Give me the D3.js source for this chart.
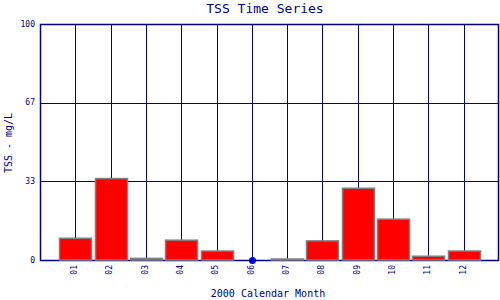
<!DOCTYPE html>
<html>
<head>
<meta charset="utf-8">
<script src="https://cdnjs.cloudflare.com/ajax/libs/d3/7.8.5/d3.min.js"></script>
<style>
  body { margin: 0; background: #fff; }
  svg { display: block; font-family: "DejaVu Sans Mono", monospace; }
</style>
</head>
<body>
<div id="chart"></div>
<script>
// monthly TSS values, null = no sample
var months = ['01','02','03','04','05','06','07','08','09','10','11','12']
var tss = [9.2, 34.5, 0.7, 8.4, 3.8, null, 0, 8.1, 30.4, 17.3, 1.6, 3.8]
var yTicks = [0, 100/3, 200/3, 100]
var yTickLabels = ['0', '33', '67', '100']

var width = 500, height = 300
var navy = '#000080'

var svg = d3.select('#chart').append('svg')
  .attr('width', width).attr('height', height)

var x = d3.scaleLinear().domain([0, months.length + 1]).range([40, 499])
var y = d3.scaleLinear().domain([0, 100]).range([260, 24])
var barW = 32
function px(v){ return Math.round(v) + 0.5 }

// vertical grid at each month
svg.append('g').selectAll('line')
  .data(months).enter().append('line')
  .attr('x1', function(d, i){ return px(x(i + 1)) })
  .attr('x2', function(d, i){ return px(x(i + 1)) })
  .attr('y1', y(0)).attr('y2', y(100))
  .attr('stroke', navy).attr('stroke-width', 1)

// horizontal grid
svg.append('g').selectAll('line')
  .data(yTicks).enter().append('line')
  .attr('x1', x(0)).attr('x2', x(months.length + 1))
  .attr('y1', function(d){ return px(y(d)) })
  .attr('y2', function(d){ return px(y(d)) })
  .attr('stroke', navy).attr('stroke-width', 1)

// frame
svg.append('rect')
  .attr('x', px(x(0))).attr('y', px(y(100)))
  .attr('width', Math.round(x(months.length + 1) - x(0)) - 1)
  .attr('height', Math.round(y(0) - y(100)))
  .attr('fill', 'none').attr('stroke', navy).attr('stroke-width', 1.5)

// bars (zero values still show as a thin outline)
svg.append('g').selectAll('rect')
  .data(tss.map(function(v, i){ return {m: months[i], v: v, i: i} })
    .filter(function(d){ return d.v !== null }))
  .enter().append('rect')
  .attr('x', function(d){ return Math.round(x(d.i + 1) - barW / 2) + 0.5 })
  .attr('y', function(d){ return Math.min(y(d.v), y(0) - 1) })
  .attr('width', barW)
  .attr('height', function(d){ return Math.max(1, y(0) - y(d.v)) })
  .attr('fill', '#ff0000')
  .attr('stroke', '#808080').attr('stroke-width', 1.5)

// missing month marker
svg.append('g').selectAll('circle')
  .data(tss.map(function(v, i){ return {v: v, i: i} })
    .filter(function(d){ return d.v === null }))
  .enter().append('circle')
  .attr('cx', function(d){ return px(x(d.i + 1)) })
  .attr('cy', px(y(0)))
  .attr('r', 3.5)
  .attr('fill', '#0000cc')

// y tick labels
svg.append('g').selectAll('text')
  .data(yTicks).enter().append('text')
  .attr('x', 35)
  .attr('y', function(d){ return y(d) })
  .attr('dy', '0.35em')
  .attr('text-anchor', 'end')
  .attr('font-size', 8)
  .attr('fill', navy)
  .text(function(d, i){ return yTickLabels[i] })

// x tick labels, rotated
svg.append('g').selectAll('text')
  .data(months).enter().append('text')
  .attr('transform', function(d, i){
    return 'translate(' + (x(i + 1) - 1) + ',' + 265 + ') rotate(-90)'
  })
  .attr('dy', '0.35em')
  .attr('text-anchor', 'end')
  .attr('font-size', 8)
  .attr('fill', navy)
  .text(function(d){ return d })

// titles
svg.append('text')
  .attr('x', 265).attr('y', 13)
  .attr('text-anchor', 'middle')
  .attr('font-size', 13)
  .attr('fill', navy)
  .text('TSS Time Series')

svg.append('text')
  .attr('x', 268).attr('y', 297)
  .attr('text-anchor', 'middle')
  .attr('font-size', 10)
  .attr('fill', navy)
  .text('2000 Calendar Month')

svg.append('text')
  .attr('transform', 'translate(12,143) rotate(-90)')
  .attr('text-anchor', 'middle')
  .attr('font-size', 10)
  .attr('fill', navy)
  .text('TSS - mg/L')
</script>
</body>
</html>
